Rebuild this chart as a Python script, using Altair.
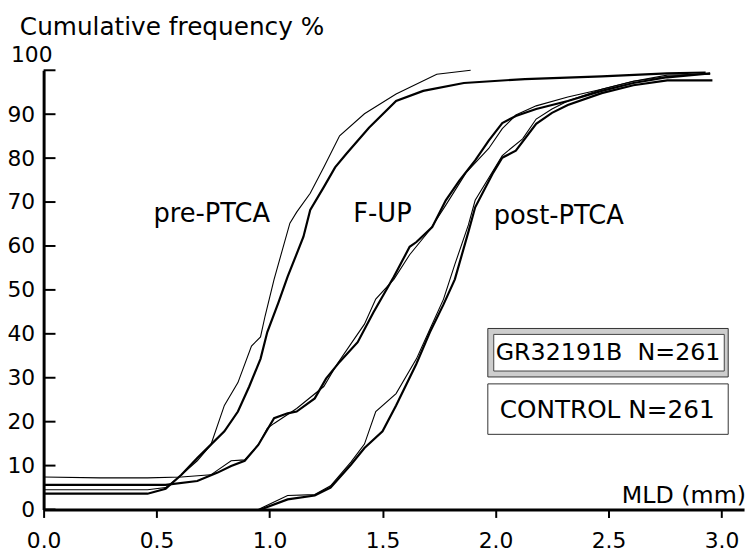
import altair as alt
import pandas as pd

# ---- data (x = MLD in mm, y = cumulative %) ----
pre_ctrl_x = [0.00, 0.46, 0.54, 0.61, 0.68, 0.74, 0.80, 0.86, 0.92, 0.96, 0.98, 1.02, 1.09, 1.12, 1.18, 1.24, 1.31, 1.42, 1.56, 1.74, 1.89]
pre_ctrl_y = [4.5, 4.5, 5.0, 7.9, 11.1, 14.7, 23.7, 28.9, 37.2, 39.3, 44.0, 52.4, 65.2, 67.7, 72.0, 77.9, 85.1, 90.1, 94.6, 99.1, 100.0]

pre_gr_x = [0.00, 0.46, 0.54, 0.61, 0.68, 0.80, 0.86, 0.91, 0.96, 0.99, 1.04, 1.08, 1.15, 1.18, 1.24, 1.29, 1.34, 1.44, 1.56, 1.68, 1.86, 2.13, 2.47, 2.76, 2.93]
pre_gr_y = [3.6, 3.6, 4.7, 7.9, 11.7, 17.8, 22.3, 28.0, 34.3, 40.4, 47.2, 53.0, 62.1, 68.2, 73.4, 77.9, 81.0, 86.9, 93.0, 95.3, 97.1, 98.0, 98.6, 99.3, 99.5]

fup_ctrl_x = [0.00, 0.25, 0.46, 0.61, 0.74, 0.83, 0.89, 0.95, 0.99, 1.02, 1.12, 1.24, 1.30, 1.36, 1.42, 1.47, 1.55, 1.62, 1.71, 1.78, 1.87, 1.97, 2.03, 2.09, 2.18, 2.32, 2.47, 2.61, 2.76, 2.95]
fup_ctrl_y = [7.4, 7.2, 7.2, 7.4, 7.9, 11.1, 11.3, 14.7, 18.5, 19.6, 23.0, 28.0, 33.2, 37.7, 42.2, 47.9, 52.4, 58.0, 63.7, 69.3, 76.7, 82.2, 86.7, 89.8, 91.9, 93.9, 95.7, 97.5, 98.6, 99.3]

fup_gr_x = [0.00, 0.46, 0.54, 0.68, 0.77, 0.83, 0.89, 0.95, 1.02, 1.08, 1.12, 1.20, 1.25, 1.31, 1.39, 1.46, 1.55, 1.62, 1.65, 1.72, 1.78, 1.84, 1.91, 1.97, 2.03, 2.09, 2.18, 2.32, 2.47, 2.61, 2.76, 2.95]
fup_gr_y = [5.6, 5.6, 5.6, 6.5, 8.4, 9.9, 11.1, 14.7, 20.8, 21.9, 22.3, 25.3, 29.8, 33.6, 38.1, 44.9, 53.0, 59.8, 60.9, 64.3, 70.4, 74.9, 79.5, 84.0, 88.0, 89.6, 91.2, 93.0, 95.3, 97.1, 98.4, 99.3]

post_ctrl_x = [0.95, 1.08, 1.20, 1.27, 1.36, 1.42, 1.47, 1.56, 1.65, 1.71, 1.77, 1.82, 1.88, 1.91, 1.99, 2.03, 2.12, 2.18, 2.25, 2.32, 2.47, 2.61, 2.76, 2.95]
post_ctrl_y = [0.0, 3.2, 3.4, 5.4, 10.8, 14.9, 22.3, 26.4, 34.3, 41.1, 47.9, 55.8, 64.8, 70.4, 77.2, 80.6, 84.4, 88.9, 91.2, 93.0, 95.7, 97.5, 98.9, 99.1]

post_gr_x = [0.96, 1.08, 1.20, 1.27, 1.36, 1.42, 1.50, 1.56, 1.65, 1.71, 1.77, 1.82, 1.88, 1.91, 1.99, 2.03, 2.09, 2.18, 2.25, 2.32, 2.47, 2.61, 2.76, 2.96]
post_gr_y = [0.0, 2.3, 3.2, 5.0, 10.2, 14.0, 17.8, 23.7, 33.2, 40.4, 46.7, 52.4, 63.2, 68.8, 76.7, 80.1, 81.7, 87.8, 90.3, 92.1, 94.8, 96.6, 97.7, 97.7]

x_ticks = [0.0, 0.5, 1.0, 1.5, 2.0, 2.5, 3.0]
y_ticks = [0, 10, 20, 30, 40, 50, 60, 70, 80, 90, 100]
y_labels = [0, 10, 20, 30, 40, 50, 60, 70, 80, 90]

curves = [
    ("pre-PTCA control", "CONTROL", pre_ctrl_x, pre_ctrl_y),
    ("pre-PTCA GR", "GR32191B", pre_gr_x, pre_gr_y),
    ("F-UP control", "CONTROL", fup_ctrl_x, fup_ctrl_y),
    ("F-UP GR", "GR32191B", fup_gr_x, fup_gr_y),
    ("post-PTCA control", "CONTROL", post_ctrl_x, post_ctrl_y),
    ("post-PTCA GR", "GR32191B", post_gr_x, post_gr_y),
]
rows = []
for name, grp, xs, ys in curves:
    for i, (a, b) in enumerate(zip(xs, ys)):
        rows.append({"curve": name, "group": grp, "i": i, "mld": a, "freq": b})
df = pd.DataFrame(rows)

FONT = "DejaVu Sans"
W, H = 708, 444

xscale = alt.Scale(domain=[0, 3.1], nice=False, zero=False)
yscale = alt.Scale(domain=[0, 100], nice=False)

lines = alt.Chart(df).mark_line(color="black", interpolate="linear").encode(
    x=alt.X("mld:Q", scale=xscale,
            axis=alt.Axis(values=x_ticks, format=".1f", title="", grid=False,
                          domainWidth=3, domainColor="black", tickSize=8, tickWidth=2,
                          tickColor="black", labelFont=FONT, labelFontSize=22,
                          labelColor="black", labelPadding=13, labelFlush=False)),
    y=alt.Y("freq:Q", scale=yscale,
            axis=alt.Axis(values=y_labels, title="", grid=False, domainWidth=3,
                          domainColor="black", tickSize=0, labelFont=FONT,
                          labelFontSize=22, labelColor="black", labelPadding=9)),
    detail="curve:N",
    order="i:Q",
    strokeWidth=alt.condition(alt.datum.group == "GR32191B", alt.value(2.2), alt.value(1.1)),
)

tick_df = pd.DataFrame({"t": y_ticks})
yticks = alt.Chart(tick_df).mark_rule(color="black", strokeWidth=2).encode(
    y=alt.Y("t:Q", scale=yscale),
    x=alt.value(0), x2=alt.value(12),
)

one = alt.Data(values=[{"k": 1}])

def txt(s, x, y, size=25, align="left", baseline="alphabetic"):
    return alt.Chart(one).mark_text(text=s, font=FONT, fontSize=size, color="black",
                                    align=align, baseline=baseline).encode(
        x=alt.value(x), y=alt.value(y))

def box(x1, x2, y1, y2, fill, stroke, sw=1):
    return alt.Chart(one).mark_rect(fill=fill, stroke=stroke, strokeWidth=sw).encode(
        x=alt.value(x1), x2=alt.value(x2), y=alt.value(y1), y2=alt.value(y2))

annotations = [
    txt("Cumulative frequency %", -24, -36, size=25),
    txt("100", 9, -8, size=22, align="right"),
    txt("pre-PTCA", 111, 153, size=26),
    txt("F-UP", 313, 153, size=26),
    txt("post-PTCA", 455, 155, size=26),
    txt("MLD (mm)", W + 2, 437, size=24, align="right"),
    box(449, 692, 261, 310, "#cdcdcd", "#333333", 1),
    box(455, 688, 267, 304, "white", "#444444", 1),
    txt("GR32191B\u00a0\u00a0N=261", 457, 286, size=24, baseline="middle"),
    box(449, 692, 317, 368, "white", "#333333", 1),
    txt("CONTROL N=261", 461, 343, size=25, baseline="middle"),
]

chart = alt.layer(lines, yticks, *annotations).properties(
    width=W, height=H,
    autosize=alt.AutoSizeParams(type="none"),
    padding={"left": 36, "top": 60, "right": 4, "bottom": 41},
).configure_view(stroke=None)

chart.save("out.html", embed_options={"renderer": "svg", "actions": False})
